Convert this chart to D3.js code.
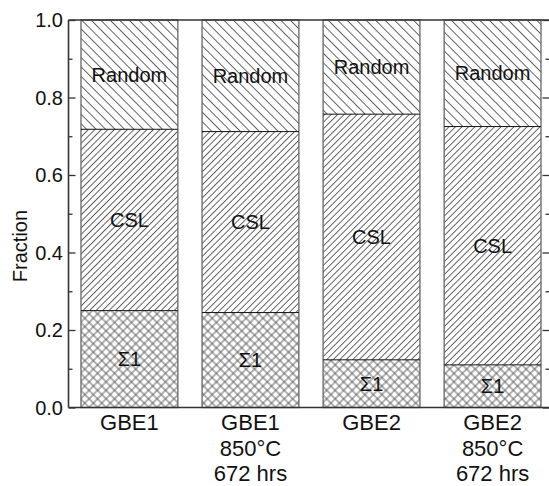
<!DOCTYPE html>
<html>
<head>
<meta charset="utf-8">
<script src="https://cdn.jsdelivr.net/npm/d3@7"></script>
<style>
  body { margin: 0; background: #fff; }
  text { font-family: "Liberation Sans", Arial, sans-serif; fill: #111; }
</style>
</head>
<body>
<script>
// data
const categories = ["GBE1", "GBE1 850°C", "GBE2", "GBE2 850°C"];
const categoryLines = [["GBE1"], ["GBE1", "850°C", "672 hrs"], ["GBE2"], ["GBE2", "850°C", "672 hrs"]];
const sigma1 = [0.250, 0.245, 0.123, 0.110];
const csl = [0.468, 0.467, 0.634, 0.615];
const random = [0.282, 0.288, 0.243, 0.275];
const segmentNames = ["Σ1", "CSL", "Random"];
const yTicks = [0, 0.2, 0.4, 0.6, 0.8, 1.0];
const yMinor = [0.1, 0.3, 0.5, 0.7, 0.9];

const w = 549, h = 486;
const plotLeft = 68.5, plotRight = 551, plotTop = 20, plotBottom = 407.5;

let svg = d3.select("body").append("svg")
    .attr("width", w)
    .attr("height", h);

// hatch patterns
let defs = svg.append("defs");

function hatch(id, angles, gap) {
    let p = defs.append("pattern")
        .attr("id", id)
        .attr("patternUnits", "userSpaceOnUse")
        .attr("width", gap)
        .attr("height", gap);
    if (angles.length === 1) {
        p.attr("patternTransform", "rotate(" + angles[0] + ")");
        p.append("line").attr("x1", gap / 2).attr("x2", gap / 2).attr("y1", 0).attr("y2", gap)
            .attr("stroke", "#555").attr("stroke-width", 0.9);
    } else {
        p.attr("patternTransform", "rotate(45)");
        p.append("line").attr("x1", gap / 2).attr("x2", gap / 2).attr("y1", 0).attr("y2", gap)
            .attr("stroke", "#555").attr("stroke-width", 0.9);
        p.append("line").attr("y1", gap / 2).attr("y2", gap / 2).attr("x1", 0).attr("x2", gap)
            .attr("stroke", "#555").attr("stroke-width", 0.9);
    }
}
hatch("patSigma", [45, -45], 6.0);
hatch("patCsl", [45], 4.6);
hatch("patRandom", [-45], 6.7);
const fills = ["url(#patSigma)", "url(#patCsl)", "url(#patRandom)"];

let x = d3.scaleBand()
    .domain(categories)
    .range([81, 541])
    .paddingInner(0.2)
    .paddingOuter(0);

let y = d3.scaleLinear()
    .domain([0, 1])
    .range([plotBottom, plotTop]);

let stack = d3.stack().keys([0, 1, 2])(categories.map(function (c, i) {
    return [sigma1[i], csl[i], random[i]];
}));

let bars = svg.append("g").attr("class", "bars");

stack.forEach(function (layer, k) {
    layer.forEach(function (d, i) {
        let x0 = x(categories[i]);
        bars.append("rect")
            .attr("x", x0)
            .attr("y", y(d[1]))
            .attr("width", x.bandwidth())
            .attr("height", y(d[0]) - y(d[1]))
            .attr("fill", fills[k])
            .attr("stroke", "none");
        bars.append("text")
            .attr("x", x0 + x.bandwidth() / 2)
            .attr("y", (y(d[0]) + y(d[1])) / 2)
            .attr("text-anchor", "middle")
            .attr("dominant-baseline", "central")
            .attr("font-size", 20)
            .text(segmentNames[k]);
    });
});

// bar outlines and segment boundaries
categories.forEach(function (c, i) {
    let x0 = x(c);
    bars.append("rect")
        .attr("x", x0)
        .attr("y", y(1))
        .attr("width", x.bandwidth())
        .attr("height", y(0) - y(1))
        .attr("fill", "none")
        .attr("stroke", "#666")
        .attr("stroke-width", 1.3);
    [sigma1[i], sigma1[i] + csl[i]].forEach(function (v) {
        bars.append("line")
            .attr("x1", x0).attr("x2", x0 + x.bandwidth())
            .attr("y1", y(v)).attr("y2", y(v))
            .attr("stroke", "#111")
            .attr("stroke-width", 1);
    });
});

// frame
let frame = svg.append("g").attr("stroke", "#333").attr("stroke-width", 1.6);
frame.append("line").attr("x1", plotLeft).attr("x2", plotRight).attr("y1", plotTop).attr("y2", plotTop);
frame.append("line").attr("x1", plotLeft).attr("x2", plotRight).attr("y1", plotBottom).attr("y2", plotBottom);
frame.append("line").attr("x1", plotLeft).attr("x2", plotLeft).attr("y1", plotTop).attr("y2", plotBottom);
frame.append("line").attr("x1", plotRight).attr("x2", plotRight).attr("y1", plotTop).attr("y2", plotBottom);

// y axes, ticks inward
let yAxisL = d3.axisRight(y).tickValues(yTicks).tickSize(7).tickFormat("");
let yAxisLm = d3.axisRight(y).tickValues(yMinor).tickSize(4).tickFormat("");
let yAxisR = d3.axisLeft(y).tickValues(yTicks).tickSize(7).tickFormat("");
let yAxisRm = d3.axisLeft(y).tickValues(yMinor).tickSize(4).tickFormat("");
[[yAxisL, plotLeft], [yAxisLm, plotLeft], [yAxisR, plotRight - 1.5], [yAxisRm, plotRight - 1.5]].forEach(function (a) {
    let g = svg.append("g").attr("transform", "translate(" + a[1] + ",0)").call(a[0]);
    g.select(".domain").remove();
    g.selectAll(".tick line").attr("stroke", "#333").attr("stroke-width", 1.3);
});

// tick labels
svg.append("g").selectAll("text")
    .data(yTicks)
    .enter()
    .append("text")
    .attr("x", 63)
    .attr("y", function (d) { return y(d); })
    .attr("text-anchor", "end")
    .attr("dominant-baseline", "central")
    .attr("font-size", 20)
    .text(d3.format(".1f"));

// category labels
categoryLines.forEach(function (lines, i) {
    let t = svg.append("text")
        .attr("text-anchor", "middle")
        .attr("font-size", 22);
    lines.forEach(function (s, j) {
        t.append("tspan")
            .attr("x", x(categories[i]) + x.bandwidth() / 2)
            .attr("y", 430 + j * 25.5)
            .text(s);
    });
});

// y title
svg.append("text")
    .attr("transform", "translate(27,246) rotate(-90)")
    .attr("text-anchor", "middle")
    .attr("font-size", 20)
    .text("Fraction");
</script>
</body>
</html>
